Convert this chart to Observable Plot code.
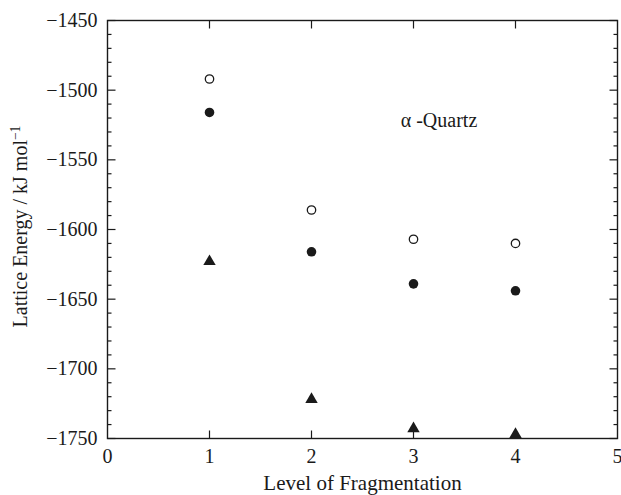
<!DOCTYPE html>
<html><head><meta charset="utf-8">
<script src="https://cdn.jsdelivr.net/npm/d3@7"></script>
<script src="https://cdn.jsdelivr.net/npm/@observablehq/plot@0.6"></script>
<style>html,body{margin:0;padding:0;background:#fff}</style>
</head><body><div id="chart"></div>
<script>
const levels = [1, 2, 3, 4];
const openCircles = [-1492, -1586, -1607, -1610];
const filledCircles = [-1516, -1616, -1639, -1644];
const triangles = [-1623, -1722, -1743, -1747];
const xTickLabels = [0, 1, 2, 3, 4, 5];
const xTickMarks = [1, 2, 3, 4];
const yTickLabels = [-1750, -1700, -1650, -1600, -1550, -1500, -1450];
const yMinorTicks = d3.range(-1740, -1450, 10).filter(v => v % 50 !== 0);
const annotation = [{x: 3.25, y: -1522, label: "α -Quartz"}];
const xTitle = "Level of Fragmentation";
const yTitle = "Lattice Energy / kJ mol";

const rows = (vals) => levels.map((l, i) => ({x: l, y: vals[i]}));
const ink = "#1a1a1a";
const fmt = d => String(d).replace("-", "\u2212");
const tickShape = {draw(context, l) { context.moveTo(0, 0); context.lineTo(0, -l); }};
const inTicks = (data, ch, side, len) => Plot.vector(data, {
  [ch]: d => d, frameAnchor: side, length: len, anchor: "start", shape: tickShape,
  rotate: {left: 90, right: -90, bottom: 0, top: 180}[side],
  stroke: ink, strokeWidth: 1.2, strokeLinecap: "butt"
});

const chart = Plot.plot({
  width: 621,
  height: 495,
  marginLeft: 107,
  marginRight: 4,
  marginTop: 20,
  marginBottom: 57,
  style: {fontFamily: "'Liberation Serif', 'Times New Roman', serif", fontSize: "20px", color: ink, background: "#fff"},
  x: {domain: [0, 5], axis: null},
  y: {domain: [-1750, -1450], axis: null},
  marks: [
    // inward ticks
    inTicks(yTickLabels, "y", "left", 8),
    inTicks(yMinorTicks, "y", "left", 4),
    inTicks(yTickLabels, "y", "right", 8),
    inTicks(yMinorTicks, "y", "right", 4),
    inTicks(xTickMarks, "x", "bottom", 8),
    inTicks(xTickMarks, "x", "top", 8),
    // tick labels
    Plot.axisY(yTickLabels, {anchor: "left", tickSize: 0, tickPadding: 10, tickFormat: fmt, fill: ink, label: null, fontSize: 20}),
    Plot.axisX(xTickLabels, {anchor: "bottom", tickSize: 0, tickPadding: 10, fill: ink, label: null, fontSize: 20}),
    Plot.frame({stroke: ink, strokeWidth: 1.4}),
    // data
    Plot.dot(rows(openCircles), {x: "x", y: "y", r: 4.2, stroke: ink, strokeWidth: 1.3, fill: "white"}),
    Plot.dot(rows(filledCircles), {x: "x", y: "y", r: 4.8, fill: ink, stroke: "none"}),
    Plot.dot(rows(triangles), {x: "x", y: "y", r: 4.6, symbol: "triangle", fill: ink, stroke: "none"}),
    // annotation
    Plot.text(annotation, {x: "x", y: "y", text: "label", fill: ink, fontSize: 20, textAnchor: "middle"}),
    // titles
    Plot.text([xTitle], {frameAnchor: "bottom", text: d => d, dy: 45, lineAnchor: "middle", textAnchor: "middle", fill: ink, fontSize: 21}),
    Plot.text([yTitle], {frameAnchor: "left", text: d => d, rotate: -90, dx: -87, dy: -3, lineAnchor: "middle", textAnchor: "middle", fill: ink, fontSize: 20, className: "ytitle"})
  ]
});
document.getElementById("chart").appendChild(chart);
// superscript for mol^-1
const t = d3.select(chart).select(".ytitle text");
t.append("tspan").attr("dy", "-0.5em").attr("font-size", "0.68em").text("\u22121");
</script>
</body></html>
